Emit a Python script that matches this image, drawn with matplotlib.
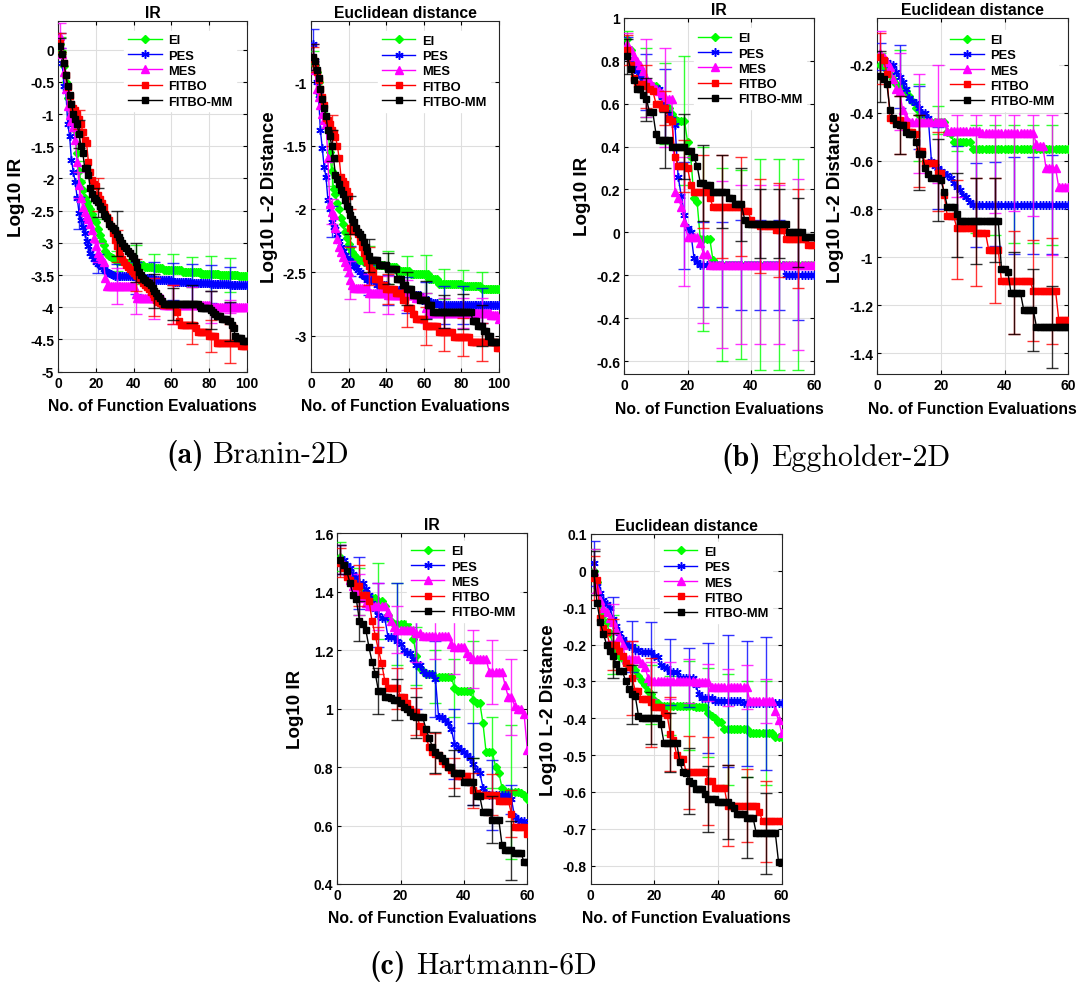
import numpy as np
import matplotlib
matplotlib.use('Agg')
import matplotlib.pyplot as plt
from matplotlib.ticker import FuncFormatter

plt.rcParams['axes.unicode_minus'] = False
plt.rcParams['font.family'] = ['Liberation Sans', 'DejaVu Sans']
plt.rcParams['font.weight'] = 'bold'

METHODS = ['EI', 'PES', 'MES', 'FITBO', 'FITBO-MM']
COLORS = ['#00ff00', '#0000ff', '#ff00ff', '#ff0000', '#000000']

# ---------------- data (run-length: (value, count) or single value) ----------------
# Branin-2D, IR
BR_IR_EI = [0.09, -0.04, -0.25, -0.5, -0.75, -0.9, -1.0, -1.1, -1.25, -1.6, -1.88, -2.05, -2.18, -2.3, -2.36,
            -2.42, -2.48, -2.55, -2.63, -2.68, -2.78, -2.88, -2.97, -3.04, -3.12, -3.17, -3.2, -3.22, -3.24, -3.26,
            (-3.28, 5), (-3.31, 5), (-3.34, 5), (-3.37, 5), (-3.39, 5), (-3.42, 10), (-3.45, 10), (-3.48, 10),
            (-3.5, 10), (-3.52, 5)]
BR_IR_PES = [0.14, -0.2, -0.56, -0.64, -1.15, -1.34, -1.72, -1.9, -2.05, -2.3, -2.53, -2.64, -2.75, -2.84, -2.97,
             -3.05, -3.15, -3.2, -3.25, -3.3, -3.32, -3.35, -3.38, -3.4, -3.43, -3.45, -3.47, -3.49, -3.5,
             (-3.52, 11), (-3.55, 10), (-3.58, 10), (-3.6, 10), (-3.62, 10), (-3.64, 10), (-3.66, 10)]
BR_IR_MES = [0.22, -0.07, -0.35, -0.61, -0.87, -1.02, -1.1, -1.2, -1.4, -1.75, -2.1, -2.3, -2.45, -2.52, -2.58,
             -2.63, -2.7, -2.8, -2.92, -3.05, -3.15, -3.2, -3.25, -3.3, -3.55, (-3.67, 15), -3.8, (-3.86, 14),
             (-3.96, 25), (-3.99, 20)]
BR_IR_FITBO = [0.11, -0.07, -0.2, -0.4, -0.58, -0.72, -0.85, -0.9, -0.93, -1.0, -1.08, -1.15, -1.28, -1.4, -1.45,
               -1.75, -1.9, -2.02, -2.08, -2.12, -2.25, -2.32, -2.38, -2.45, -2.55, -2.6, -2.65, -2.73, -2.85, -2.95,
               -3.05, -3.15, -3.2, -3.25, -3.3, -3.34, -3.37, -3.4, -3.44, -3.47, -3.5, -3.52, -3.55, -3.58, -3.62,
               -3.65, -3.68, -3.72, -3.76, -3.8, -3.84, -3.88, -3.91, -3.93, -3.95, (-3.96, 7), -4.08, -4.22,
               (-4.27, 8), -4.32, (-4.38, 6), (-4.45, 4), (-4.56, 13), (-4.6, 4)]
BR_IR_MM = [0.06, -0.06, -0.2, -0.4, -0.56, -0.71, -0.84, -1.0, -1.08, -1.15, -1.31, -1.49, -1.6, -1.83, -1.83,
            -1.95, -2.15, -2.24, -2.3, -2.33, -2.37, -2.42, -2.47, -2.55, -2.58, -2.62, -2.7, -2.74, -2.77, -2.8,
            -2.86, -2.91, -2.95, -3.0, -3.05, -3.08, -3.12, -3.16, -3.2, -3.24, -3.3, -3.38, -3.45, -3.5, -3.55,
            -3.58, -3.6, -3.63, -3.66, -3.7, -3.75, -3.78, -3.82, -3.86, -3.9, (-3.95, 19), -3.98, (-4.01, 5),
            -4.04, -4.07, -4.1, (-4.14, 3), (-4.18, 3), (-4.22, 2), -4.28, -4.32, -4.45, (-4.47, 3), (-4.52, 3)]
BR_IR_ERR = [[0.1, 0.15, 0.15, 0.15, 0.3, 0.22, 0.24, 0.23, 0.27, 0.27],
             [0.12, 0.25, 0.15, 0.2, 0.25, 0.28, 0.29, 0.3, 0.3, 0.28],
             [0.2, 0.2, 0.15, 0.28, 0.3, 0.32, 0.3, 0.28, 0.25, 0.1],
             [0.15, 0.15, 0.25, 0.25, 0.25, 0.3, 0.3, 0.3, 0.25, 0.3],
             [0.12, 0.22, 0.23, 0.35, 0.3, 0.26, 0.25, 0.3, 0.3, 0.3]]

# Branin-2D, Euclidean distance
BR_L2_EI = [-0.83, -0.86, -0.92, -1.0, -1.1, -1.17, -1.25, -1.3, -1.35, -1.55, -1.7, -1.84, -1.88, -1.95, -2.0,
            -2.07, -2.12, -2.18, -2.23, -2.28, -2.31, -2.34, -2.36, -2.38, (-2.4, 3), (-2.42, 5), (-2.44, 7),
            (-2.46, 6), (-2.49, 7), (-2.51, 10), (-2.55, 5), (-2.59, 13), (-2.61, 10), (-2.63, 10)]
BR_L2_PES = [-0.7, -0.85, -1.0, -1.1, -1.38, -1.52, -1.67, -1.75, -1.93, -2.0, -2.1, -2.14, -2.16, -2.2, -2.25,
             -2.3, -2.33, -2.36, -2.39, -2.4, -2.41, -2.43, -2.45, -2.46, -2.48, -2.5, -2.52, -2.53, -2.54,
             (-2.56, 5), (-2.6, 6), (-2.64, 10), (-2.68, 8), (-2.72, 4), (-2.74, 5), (-2.76, 33)]
BR_L2_MES = [-0.8, -0.9, -1.05, -1.12, -1.18, -1.25, -1.3, -1.33, -1.6, -1.96, -2.02, -2.05, -2.15, -2.24, -2.3,
             -2.34, -2.38, -2.42, -2.45, -2.5, -2.56, -2.6, (-2.62, 8), (-2.66, 10), (-2.68, 15), (-2.7, 5), -2.78,
             (-2.82, 34), (-2.84, 4), -2.87]
BR_L2_FITBO = [-0.82, -0.85, -0.92, -0.98, -1.05, -1.12, -1.18, -1.28, -1.3, -1.33, -1.38, -1.4, -1.43, -1.5, -1.6,
               -1.75, -1.78, -1.8, -1.86, -1.9, -2.15, (-2.17, 3), -2.2, -2.25, -2.3, -2.35, -2.39, -2.42, -2.45,
               -2.48, -2.5, (-2.55, 3), (-2.6, 3), (-2.63, 5), (-2.66, 4), (-2.72, 2), (-2.78, 3), (-2.83, 2),
               (-2.87, 5), (-2.92, 7), (-2.97, 8), (-3.01, 9), (-3.05, 14), (-3.1, 2)]
BR_L2_MM = [-0.8, -0.83, -0.9, -0.97, -1.05, -1.13, -1.2, -1.27, -1.38, -1.42, -1.5, -1.6, -1.73, -1.76, -1.8,
            -1.85, -1.88, -1.93, -1.98, -2.0, -2.05, -2.08, -2.1, -2.15, -2.18, -2.2, -2.22, -2.26, -2.3, -2.33,
            -2.37, (-2.4, 4), (-2.44, 5), (-2.47, 5), (-2.55, 3), (-2.6, 2), (-2.63, 3), (-2.68, 4), (-2.72, 4),
            (-2.76, 3), (-2.81, 21), (-2.88, 3), (-2.92, 3), (-2.96, 2), (-3.0, 2), (-3.05, 5)]
BR_L2_ERR = [[0.08, 0.12, 0.12, 0.13, 0.13, 0.12, 0.15, 0.12, 0.13, 0.13],
             [0.12, 0.12, 0.12, 0.12, 0.12, 0.14, 0.14, 0.15, 0.15, 0.14],
             [0.1, 0.1, 0.15, 0.15, 0.15, 0.12, 0.12, 0.12, 0.12, 0.12],
             [0.1, 0.12, 0.15, 0.15, 0.12, 0.15, 0.15, 0.15, 0.15, 0.15],
             [0.1, 0.12, 0.15, 0.13, 0.12, 0.13, 0.15, 0.13, 0.14, 0.16]]

# Eggholder-2D, IR
EG_IR_EI = [0.9, 0.85, 0.8, 0.77, 0.74, 0.72, 0.7, (0.68, 3), 0.66, 0.63, 0.6, 0.58, 0.55, 0.53, (0.52, 3), 0.42,
            0.35, 0.16, 0.14, (-0.03, 4), -0.13, (-0.15, 32)]
EG_IR_PES = [0.86, 0.8, 0.77, 0.75, 0.73, 0.71, 0.7, 0.68, (0.67, 3), 0.63, 0.6, 0.55, 0.53, 0.5, 0.26, 0.17, 0.08,
             0.02, 0.0, -0.12, -0.14, (-0.15, 27), (-0.2, 10)]
EG_IR_MES = [0.88, 0.85, 0.82, 0.8, 0.78, 0.75, 0.72, 0.7, 0.68, 0.67, 0.66, 0.65, 0.63, (0.62, 2), 0.19, 0.16,
             0.12, 0.05, (-0.02, 4), -0.05, (-0.1, 2), (-0.15, 34)]
EG_IR_FITBO = [0.85, 0.78, 0.72, (0.69, 3), 0.68, 0.67, 0.66, (0.6, 2), (0.58, 2), 0.53, 0.52, 0.35, (0.31, 3), 0.3,
               0.22, (0.19, 5), 0.16, (0.12, 10), (0.1, 2), 0.06, (0.04, 2), (0.03, 5), (0.01, 3), (-0.03, 7),
               (-0.06, 3)]
EG_IR_MM = [0.82, 0.76, 0.71, (0.67, 2), 0.64, 0.62, (0.56, 2), 0.46, (0.43, 4), (0.4, 5), (0.38, 2), 0.35, 0.31,
            (0.23, 2), (0.22, 2), (0.19, 5), (0.16, 2), (0.13, 3), 0.06, (0.04, 13), (0.0, 5), (-0.02, 4)]
EG_IR_ERR = [[0.04, 0.16, 0.19, 0.3, 0.43, 0.45, 0.44, 0.49, 0.49, 0.49],
             [0.05, 0.13, 0.16, 0.25, 0.2, 0.2, 0.21, 0.21, 0.21, 0.21],
             [0.05, 0.18, 0.23, 0.3, 0.32, 0.39, 0.37, 0.37, 0.37, 0.4],
             [0.07, 0.1, 0.08, 0.12, 0.17, 0.24, 0.23, 0.22, 0.22, 0.23],
             [0.08, 0.1, 0.13, 0.15, 0.175, 0.17, 0.17, 0.16, 0.16, 0.16]]

# Eggholder-2D, Euclidean distance
EG_L2_EI = [-0.2, -0.21, -0.22, -0.24, -0.26, -0.28, -0.29, -0.3, -0.31, -0.33, -0.35, -0.38, -0.41, -0.42,
            (-0.44, 7), -0.48, -0.49, (-0.52, 6), (-0.55, 31)]
EG_L2_PES = [-0.17, -0.18, -0.19, (-0.2, 2), -0.23, -0.25, -0.27, -0.3, -0.34, -0.35, -0.36, -0.38, (-0.4, 2), -0.42,
             -0.6, -0.62, -0.63, -0.64, -0.65, -0.66, -0.67, -0.69, -0.71, -0.72, -0.74, -0.75, -0.77, (-0.785, 31)]
EG_L2_MES = [-0.15, -0.17, -0.19, -0.21, -0.26, -0.3, -0.31, -0.39, -0.42, (-0.44, 12), (-0.475, 11), (-0.485, 17),
             -0.53, (-0.54, 2), (-0.63, 4), (-0.71, 4)]
EG_L2_FITBO = [-0.17, -0.18, -0.24, -0.42, (-0.43, 3), (-0.45, 2), (-0.48, 2), -0.49, (-0.56, 2), (-0.61, 4),
               (-0.65, 2), -0.74, (-0.83, 3), (-0.88, 6), (-0.9, 4), (-0.97, 4), (-1.1, 10), (-1.14, 8), (-1.26, 4)]
EG_L2_MM = [-0.245, -0.26, -0.28, -0.39, -0.42, -0.445, (-0.45, 2), -0.48, (-0.49, 2), -0.52, (-0.57, 2), -0.63,
            -0.655, (-0.67, 3), -0.68, -0.73, (-0.79, 3), -0.82, (-0.85, 13), (-1.05, 2), -1.06, (-1.15, 4),
            (-1.22, 4), (-1.29, 11)]
# (lower, upper) half-lengths
EG_L2_ERR = [([0.06, 0.15, 0.19, 0.05, 0.04, 0.35, 0.36, 0.39, 0.39, 0.4],
              [0.05, 0.15, 0.13, 0.07, 0.04, 0.1, 0.1, 0.1, 0.1, 0.1]),
             ([0.05, 0.13, 0.17, 0.17, 0.13, 0.175, 0.17, 0.2, 0.2, 0.2],
              [0.06, 0.13, 0.09, 0.17, 0.17, 0.175, 0.18, 0.2, 0.2, 0.21]),
             ([0.1, 0.16, 0.21, 0.25, 0.275, 0.375, 0.33, 0.325, 0.345, 0.36],
              [0.09, 0.16, 0.2, 0.24, 0.065, 0.065, 0.075, 0.075, 0.075, 0.22]),
             ([0.11, 0.14, 0.15, 0.16, 0.21, 0.22, 0.22, 0.22, 0.21, 0.22],
              [0.1, 0.1, 0.15, 0.17, 0.2, 0.23, 0.3, 0.21, 0.21, 0.22]),
             ([0.11, 0.12, 0.15, 0.18, 0.18, 0.18, 0.17, 0.17, 0.17, 0.17],
              [0.1, 0.12, 0.16, 0.16, 0.17, 0.18, 0.18, 0.17, 0.17, 0.17])]

# Hartmann-6D, IR
HA_IR_EI = [1.52, 1.5, 1.48, 1.46, 1.44, 1.42, (1.4, 2), 1.39, (1.38, 3), (1.37, 2), 1.35, 1.32, 1.3, (1.29, 5),
            1.27, 1.24, 1.18, 1.14, 1.13, (1.12, 3), (1.11, 6), 1.07, (1.06, 5), 1.03, (1.02, 2), 0.95, (0.85, 3),
            0.8, 0.78, 0.73, (0.715, 5), 0.71, 0.705, 0.69]
HA_IR_PES = [1.51, 1.51, 1.49, 1.48, 1.46, 1.45, (1.43, 2), 1.41, 1.39, 1.36, 1.34, 1.32, (1.31, 2), (1.245, 3),
             1.23, 1.22, 1.2, 1.19, 1.19, 1.17, 1.15, 1.15, 1.13, (1.12, 3), 1.1, (0.97, 2), 0.96, 0.95, 0.93, 0.88,
             0.87, 0.86, 0.85, 0.84, 0.83, 0.81, 0.79, 0.78, 0.73, 0.71, (0.705, 7), 0.69, 0.63, 0.62, (0.615, 2),
             0.59]
HA_IR_MES = [1.51, 1.49, 1.47, 1.44, 1.42, 1.41, 1.39, 1.38, 1.36, (1.35, 6), 1.33, 1.3, 1.28, (1.27, 6),
             (1.26, 2), (1.25, 9), 1.22, (1.21, 4), 1.19, 1.18, (1.17, 5), (1.125, 5), 1.08, (1.04, 2), 1.01,
             (1.0, 2), 0.98, 0.86]
HA_IR_FITBO = [1.5, 1.48, 1.45, 1.44, 1.43, (1.42, 2), (1.39, 2), 1.37, 1.3, 1.25, 1.2, 1.155, 1.095, (1.07, 4),
               (1.04, 2), 1.02, 1.0, (0.99, 2), 0.94, 0.92, 0.9, 0.87, 0.85, 0.845, 0.84, 0.82, 0.81, 0.8, 0.79,
               0.78, (0.77, 4), 0.75, 0.72, 0.71, (0.705, 6), (0.685, 4), 0.64, (0.595, 4), 0.57]
HA_IR_MM = [1.51, 1.49, 1.47, 1.43, 1.39, 1.375, 1.3, 1.29, 1.27, 1.21, 1.16, 1.12, (1.06, 2), (1.04, 2), 1.035,
            (1.03, 2), 1.02, 1.005, 1.0, 0.99, 0.975, (0.97, 3), 0.93, 0.9, 0.87, 0.85, 0.84, 0.83, 0.82, (0.8, 2),
            (0.78, 3), (0.75, 4), (0.7, 2), (0.645, 3), (0.62, 3), 0.535, (0.515, 3), (0.505, 3), (0.475, 2)]
HA_IR_ERR = [[0.05, 0.08, 0.13, 0.14, 0.1, 0.09, 0.1, 0.2, 0.12, 0.23],
             [0.05, 0.09, 0.11, 0.2, 0.15, 0.13, 0.12, 0.14, 0.12, 0.05],
             [0.05, 0.07, 0.08, 0.08, 0.1, 0.08, 0.09, 0.1, 0.11, 0.13],
             [0.05, 0.07, 0.08, 0.07, 0.08, 0.07, 0.05, 0.06, 0.07, 0.08],
             [0.05, 0.07, 0.08, 0.07, 0.07, 0.07, 0.08, 0.08, 0.08, 0.1]]

# Hartmann-6D, Euclidean distance
HA_L2_EI = [0.0, -0.03, -0.09, -0.12, -0.14, -0.17, -0.2, -0.22, -0.23, -0.24, (-0.25, 2), -0.26, -0.27, -0.285,
            -0.3, -0.31, -0.325, -0.335, -0.35, -0.36, (-0.366, 11), (-0.37, 4), -0.385, -0.395, -0.4, (-0.41, 2),
            (-0.43, 8), (-0.44, 8), (-0.45, 3)]
HA_L2_PES = [0.02, -0.04, -0.06, -0.08, -0.09, -0.1, -0.13, -0.15, -0.17, -0.185, -0.195, (-0.205, 2), (-0.215, 2),
             (-0.22, 4), -0.23, -0.235, -0.255, -0.26, -0.265, (-0.275, 3), (-0.29, 5), -0.31, -0.335, (-0.345, 4),
             (-0.353, 9), (-0.36, 13)]
HA_L2_MES = [0.0, -0.05, -0.08, -0.1, -0.113, -0.127, -0.14, -0.16, -0.18, -0.2, (-0.24, 5), -0.25, -0.26, -0.29,
             (-0.298, 14), (-0.303, 5), (-0.316, 12), (-0.353, 8), -0.38, -0.405, -0.44]
HA_L2_FITBO = [-0.02, -0.025, -0.127, -0.154, -0.167, (-0.2, 3), -0.217, -0.23, -0.25, -0.26, -0.29, (-0.326, 2),
               (-0.348, 3), -0.357, (-0.37, 3), -0.385, -0.39, -0.443, -0.46, -0.5, (-0.51, 2), (-0.547, 7),
               (-0.57, 2), (-0.59, 4), (-0.637, 10), -0.655, (-0.68, 7)]
HA_L2_MM = [-0.005, -0.086, -0.14, -0.172, -0.2, -0.217, -0.23, -0.253, (-0.273, 2), -0.3, -0.32, -0.335, -0.34,
            -0.393, (-0.4, 6), -0.416, (-0.466, 5), -0.52, -0.545, -0.55, -0.57, -0.575, (-0.592, 3), -0.606,
            (-0.62, 3), (-0.628, 4), -0.635, -0.645, (-0.66, 3), (-0.67, 3), (-0.712, 7), (-0.79, 2)]
HA_L2_ERR = [[0.06, 0.08, 0.06, 0.08, 0.08, 0.12, 0.12, 0.15, 0.13, 0.14],
             [0.06, 0.06, 0.07, 0.08, 0.09, 0.08, 0.15, 0.18, 0.17, 0.18],
             [0.06, 0.05, 0.05, 0.05, 0.05, 0.06, 0.05, 0.05, 0.06, 0.06],
             [0.06, 0.07, 0.1, 0.12, 0.1, 0.1, 0.12, 0.11, 0.1, 0.11],
             [0.06, 0.06, 0.08, 0.07, 0.08, 0.09, 0.09, 0.1, 0.11, 0.11]]

ERR_X_100 = [1, 11, 21, 31, 41, 51, 61, 71, 81, 91]
ERR_X_60 = [1, 7, 13, 19, 25, 31, 37, 43, 49, 55]

TITLES = ['IR', 'Euclidean distance']
YLABELS = ['Log10 IR', 'Log10 L-2 Distance']
XLABEL = 'No. of Function Evaluations'
CAPTIONS = [('(a)', 'Branin-2D'), ('(b)', 'Eggholder-2D'), ('(c)', 'Hartmann-6D')]


def expand(seq):
    out = []
    for v in seq:
        if isinstance(v, tuple):
            out.extend([v[0]] * v[1])
        else:
            out.append(v)
    return np.array(out, dtype=float)


MARKER_STYLE = [dict(marker='D', markersize=4.2),
                dict(marker=(6, 2, 0), markersize=6.0, markeredgewidth=1.1),
                dict(marker='^', markersize=5.2),
                dict(marker='s', markersize=4.8),
                dict(marker='s', markersize=4.8)]

W, H = 1085, 987
fig = plt.figure(figsize=(W / 100, H / 100), dpi=100)


def fmt(v, p):
    if abs(v) < 1e-9:
        return '0'
    return '%g' % round(v, 6)


def make_axes(px_left, px_top, px_right, px_bottom):
    return fig.add_axes([px_left / W, 1 - px_bottom / H, (px_right - px_left) / W, (px_bottom - px_top) / H])


def draw(ax, series, errs, err_x, title, ylabel, xmax, ylim, yticks, leg_xy):
    handles = []
    for i, s in enumerate(series):
        y = expand(s)
        x = np.arange(1, len(y) + 1)
        ex = np.array([e for e in err_x if e <= len(y)])
        ey = y[ex - 1]
        e = errs[i]
        if isinstance(e, tuple):
            yerr = np.array([e[0][:len(ex)], e[1][:len(ex)]])
        else:
            yerr = np.array(e[:len(ex)])
        ax.errorbar(ex, ey, yerr=yerr, fmt='none', ecolor=COLORS[i], elinewidth=1.0,
                    capsize=4.5, capthick=1.0, alpha=0.8, zorder=3 + 2 * i)
        ln, = ax.plot(x, y, color=COLORS[i], linewidth=1.0, markerfacecolor=COLORS[i],
                      markeredgecolor=COLORS[i], zorder=4 + 2 * i, label=METHODS[i], **MARKER_STYLE[i])
        handles.append(ln)
    ax.set_xlim(0, xmax)
    ax.set_ylim(*ylim)
    ax.set_xticks(np.arange(0, xmax + 1, 20))
    ax.set_yticks(yticks)
    ax.yaxis.set_major_formatter(FuncFormatter(fmt))
    ax.xaxis.set_major_formatter(FuncFormatter(fmt))
    ax.tick_params(direction='in', top=True, right=True, length=3, width=0.8, labelsize=10, pad=3)
    for lab in ax.get_xticklabels() + ax.get_yticklabels():
        lab.set_fontweight('bold')
    ax.grid(True, color='#dedede', linewidth=0.8)
    ax.set_axisbelow(True)
    for sp in ax.spines.values():
        sp.set_linewidth(0.8)
        sp.set_color('#262626')
    ax.set_title(title, fontsize=11.3, fontweight='bold', pad=3)
    ax.set_xlabel(XLABEL, fontsize=11.3, fontweight='bold')
    ax.xaxis.set_label_coords(0.5, -0.075)
    ax.set_ylabel(ylabel, fontsize=13.5, fontweight='bold')
    ax.yaxis.set_label_coords(-0.175, 0.5)
    leg = ax.legend(handles=handles, loc='upper left', bbox_to_anchor=leg_xy, frameon=True,
                    fancybox=False, framealpha=1, edgecolor='white', facecolor='white',
                    prop={'size': 9.3, 'weight': 'bold'}, handlelength=2.6, handletextpad=0.5,
                    labelspacing=0.25, borderpad=0.3, borderaxespad=0, numpoints=1)
    leg.set_zorder(20)


# Branin
ax = make_axes(58.3, 21.7, 246.7, 372.7)
draw(ax, [BR_IR_EI, BR_IR_PES, BR_IR_MES, BR_IR_FITBO, BR_IR_MM], BR_IR_ERR, ERR_X_100, TITLES[0], YLABELS[0],
     100, (-5, 0.45), np.arange(-5, 0.01, 0.5), (0.35, 0.972))
ax = make_axes(311, 21.7, 499, 372.7)
draw(ax, [BR_L2_EI, BR_L2_PES, BR_L2_MES, BR_L2_FITBO, BR_L2_MM], BR_L2_ERR, ERR_X_100, TITLES[1], YLABELS[1],
     100, (-3.284, -0.514), np.arange(-3, -0.99, 0.5), (0.356, 0.971))
# Eggholder
ax = make_axes(624.3, 18.8, 814.3, 375)
draw(ax, [EG_IR_EI, EG_IR_PES, EG_IR_MES, EG_IR_FITBO, EG_IR_MM], EG_IR_ERR, ERR_X_60, TITLES[0], YLABELS[0],
     60, (-0.66, 1.0), np.arange(-0.6, 1.01, 0.2), (0.367, 0.97))
ax = make_axes(877.3, 18.8, 1068.3, 375)
draw(ax, [EG_L2_EI, EG_L2_PES, EG_L2_MES, EG_L2_FITBO, EG_L2_MM], EG_L2_ERR, ERR_X_60, TITLES[1], YLABELS[1],
     60, (-1.486, -0.005), np.arange(-1.4, -0.19, 0.2), (0.36, 0.965))
# Hartmann
ax = make_axes(337.3, 534.3, 527.3, 885)
draw(ax, [HA_IR_EI, HA_IR_PES, HA_IR_MES, HA_IR_FITBO, HA_IR_MM], HA_IR_ERR, ERR_X_60, TITLES[0], YLABELS[0],
     60, (0.4, 1.6), np.arange(0.4, 1.61, 0.2), (0.367, 0.977))
ax = make_axes(590.7, 535, 781.7, 885)
draw(ax, [HA_L2_EI, HA_L2_PES, HA_L2_MES, HA_L2_FITBO, HA_L2_MM], HA_L2_ERR, ERR_X_60, TITLES[1], YLABELS[1],
     60, (-0.85, 0.1), np.arange(-0.8, 0.11, 0.1), (0.363, 0.977))

# captions
cap_pos = [(204, 213, 463), (761, 771, 466), (406, 416, 974)]
for (tag, name), (xr, xl, yb) in zip(CAPTIONS, cap_pos):
    fig.text(xr / W, 1 - yb / H, tag, ha='right', va='baseline', fontsize=21.5, fontfamily='cmb10')
    fig.text(xl / W, 1 - yb / H, name, ha='left', va='baseline', fontsize=21.5, fontfamily='cmr10')

fig.savefig('out.png', dpi=100)
